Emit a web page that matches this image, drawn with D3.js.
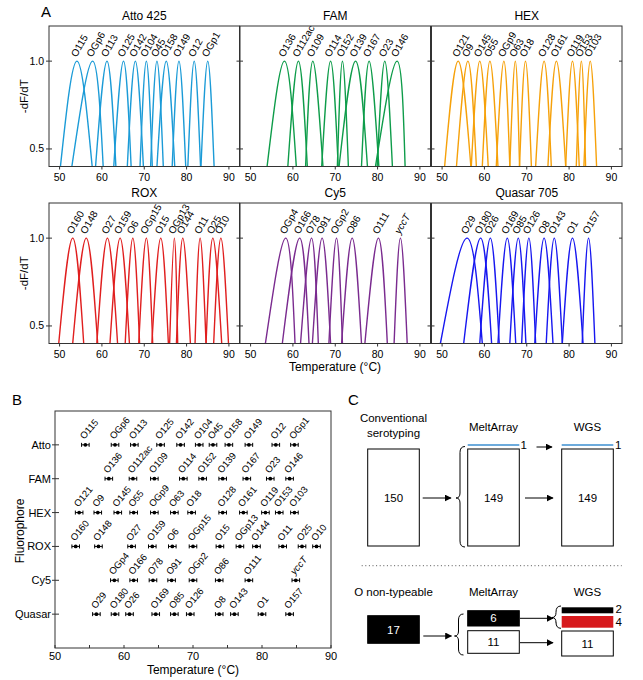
<!DOCTYPE html>
<html>
<head>
<meta charset="utf-8">
<script src="https://cdn.jsdelivr.net/npm/d3@7"></script>
<style>
  body { margin: 0; background: #fff; }
  svg { font-family: "Liberation Sans", Arial, sans-serif; }
</style>
</head>
<body>
<div id="chart"></div>
<script>
// ---- data: melt peaks, [name, Tm, left foot, right foot] (°C)
const attoPeaks = [["O115",54.1,50.2,57.7],["OGp6",57.8,52.9,60.3],["O113",61.2,58.5,63.3],["O125",65.1,62.8,66.9],
  ["O142",67.9,66.0,69.8],["O104",70.5,69.0,71.9],["O45",73.0,71.5,74.5],["O158",75.2,73.0,77.2],
  ["O149",78.2,76.6,79.8],["O12",81.8,80.3,83.3],["OGp1",85.0,83.4,86.5]];
const famPeaks = [["O136",58.0,53.9,60.8],["O112ac",61.3,58.8,63.4],["O109",64.7,63.0,67.1],["O114",68.9,66.8,70.7],
  ["O152",71.7,70.5,73.1],["O139",74.8,70.9,77.6],["O167",78.0,76.2,80.3],["O23",81.7,79.9,83.5],["O146",84.6,79.5,86.5]];
const hexPeaks = [["O121",53.8,50.6,56.8],["O9",56.1,53.4,58.1],["O145",58.9,56.9,60.9],["O55",61.3,59.5,63.2],
  ["OGp9",64.6,62.8,66.0],["O63",67.3,66.0,68.3],["O18",69.7,68.3,71.1],["O128",74.1,72.1,75.8],
  ["O161",77.0,75.0,79.2],["O119",80.8,79.2,82.4],["O153",82.9,81.7,83.9],["O103",85.0,83.5,86.5]];
const roxPeaks = [["O160",53.1,49.8,55.7],["O148",56.3,53.1,59.0],["O27",61.3,58.8,63.7],["O159",64.3,61.9,66.5],
  ["O6",67.3,65.5,68.9],["OGp15",70.5,68.7,72.0],["O15",73.9,71.8,75.7],["OGp13",77.1,76.0,77.9],
  ["O144",79.1,77.6,80.9],["O11",83.2,82.0,84.6],["O25",86.2,84.6,88.3],["O10",88.1,86.4,89.9]];
const cy5Peaks = [["OGp4",58.3,53.5,60.5],["O166",61.6,57.5,63.8],["O78",64.4,61.8,66.0],["O91",66.9,64.6,68.9],
  ["OGp2",70.3,68.5,71.7],["O86",74.0,71.5,76.2],["O111",80.2,77.0,82.3],["yccT",85.4,83.9,87.0]];
const quasarPeaks = [["O29",55.9,49.6,59.5],["O180",59.1,55.1,61.7],["O26",61.4,58.9,63.5],["O169",65.4,63.2,67.4],
  ["O85",68.0,66.0,69.8],["O126",70.5,68.8,72.1],["O8",74.1,71.9,76.2],["O143",76.5,74.6,78.4],
  ["O1",80.8,78.4,83.3],["O157",84.6,83.1,86.1]];

const panelTitles = ["Atto 425","FAM","HEX","ROX","Cy5","Quasar 705"];
const panelColors = ["#1b9bd7","#0e9c4a","#f6a10a","#e01f1f","#7a2b8f","#1717f0"];
const allPeaks = [attoPeaks, famPeaks, hexPeaks, roxPeaks, cy5Peaks, quasarPeaks];
const tempTicks = [50,60,70,80,90];
const yTicksA = [0.5, 1.0];

// panel B: mean Tm per probe (same order as names above)
const fluorB = ["Atto","FAM","HEX","ROX","Cy5","Quasar"];
const attoTm = [54.4,58.7,61.5,65.3,68.2,70.9,72.9,75.2,78.1,82.0,84.7];
const famTm = [57.8,61.3,64.4,68.6,71.4,74.3,77.8,81.2,84.0];
const hexTm = [53.5,56.2,59.1,61.4,64.4,67.3,69.8,74.3,77.3,80.5,82.5,84.7];
const roxTm = [53.0,56.3,61.1,64.1,67.0,70.0,73.9,76.8,79.2,83.0,85.8,87.9];
const cy5Tm = [58.6,61.4,64.2,66.9,70.0,73.8,78.1,84.9];
const quasarTm = [56.0,58.7,60.8,64.6,67.3,69.6,73.8,76.0,80.0,84.0];
const allTm = [attoTm, famTm, hexTm, roxTm, cy5Tm, quasarTm];
const tmError = 0.55;

// panel C counts
const conventionalCount = 150;
const meltTyped = [1, 149];
const wgsTyped = [1, 149];
const nonTypeable = 17;
const meltNonTypeable = [6, 11];
const wgsNonTypeable = [2, 4, 11];

const svg = d3.select("#chart").append("svg")
  .attr("width", 643).attr("height", 680);

svg.append("defs").append("marker")
  .attr("id", "arrow").attr("viewBox", "0 0 10 10")
  .attr("refX", 9).attr("refY", 5)
  .attr("markerWidth", 7).attr("markerHeight", 7)
  .attr("markerUnits", "userSpaceOnUse")
  .attr("orient", "auto")
  .append("path").attr("d", "M0,0 L10,5 L0,10 Z").attr("fill", "#000");

// ================= Panel A =================
svg.append("text").attr("x", 41).attr("y", 17).attr("font-size", 15).text("A");

const colLeft = [49, 240, 431.5];
const rowTop = [26, 203];
const pw = 190.5, ph = 140.5;

allPeaks.forEach((peaks, i) => {
  const col = i % 3, row = Math.floor(i / 3);
  const x0 = colLeft[col], y0 = rowTop[row];
  const x = d3.scaleLinear().domain([47.5, 92.5]).range([x0, x0 + pw]);
  const y = d3.scaleLinear().domain([0.4, 1.2]).range([y0 + ph, y0]);
  const g = svg.append("g");

  g.append("clipPath").attr("id", "clip" + i)
    .append("rect").attr("x", x0).attr("y", y0).attr("width", pw).attr("height", ph);

  const line = d3.line().x(d => x(d[0])).y(d => y(d[1])).curve(d3.curveNatural);

  g.append("g").attr("clip-path", `url(#clip${i})`)
    .selectAll("path").data(peaks).join("path")
    .attr("d", d => line([[d[2], 0.4], [d[1], 1.0], [d[3], 0.4]]))
    .attr("fill", "none")
    .attr("stroke", panelColors[i])
    .attr("stroke-width", 1.4);

  g.selectAll("text.pk").data(peaks).join("text")
    .attr("class", "pk")
    .attr("font-size", 10)
    .attr("transform", d => `translate(${x(d[1]) - 0.5},${y(1.0) - 3.5}) rotate(-60)`)
    .attr("font-style", d => d[0] === "yccT" ? "italic" : null)
    .text(d => d[0]);

  g.append("rect").attr("x", x0).attr("y", y0).attr("width", pw).attr("height", ph)
    .attr("fill", "none").attr("stroke", "#333").attr("stroke-width", 1);

  // x ticks
  g.selectAll("line.xt").data(tempTicks).join("line")
    .attr("x1", d => x(d)).attr("x2", d => x(d))
    .attr("y1", y0 + ph).attr("y2", y0 + ph + 3)
    .attr("stroke", "#333");
  g.selectAll("text.xl").data(tempTicks).join("text")
    .attr("x", d => x(d)).attr("y", y0 + ph + 14)
    .attr("text-anchor", "middle").attr("font-size", 10.5)
    .text(d => d);

  // y ticks on both edges
  g.selectAll("line.yl").data(yTicksA).join("line")
    .attr("x1", x0 - (col === 0 ? 3 : 0)).attr("x2", x0 + 3)
    .attr("y1", d => y(d)).attr("y2", d => y(d)).attr("stroke", "#333");
  g.selectAll("line.yr").data(yTicksA).join("line")
    .attr("x1", x0 + pw - 3).attr("x2", x0 + pw)
    .attr("y1", d => y(d)).attr("y2", d => y(d)).attr("stroke", "#333");
  if (col === 0) {
    g.selectAll("text.yt").data(yTicksA).join("text")
      .attr("x", x0 - 5).attr("y", d => y(d) + 3.5)
      .attr("text-anchor", "end").attr("font-size", 10.5)
      .text(d => d.toFixed(1));
    g.append("text")
      .attr("transform", `translate(${x0 - 21},${y0 + ph / 2}) rotate(-90)`)
      .attr("text-anchor", "middle").attr("font-size", 11.5)
      .text("-dF/dT");
  }

  g.append("text").attr("x", x0 + pw / 2).attr("y", y0 - 6)
    .attr("text-anchor", "middle").attr("font-size", 12)
    .text(panelTitles[i]);
});

svg.append("text").attr("x", 335).attr("y", 371)
  .attr("text-anchor", "middle").attr("font-size", 12)
  .text("Temperature (°C)");

// ================= Panel B =================
svg.append("text").attr("x", 12).attr("y", 405).attr("font-size", 15).text("B");

const bx = d3.scaleLinear().domain([50, 90]).range([55, 331]);
const by = d3.scalePoint().domain(["", ...fluorB, " "]).range([411, 648]);
const gB = svg.append("g");

gB.append("rect").attr("x", 55).attr("y", 411).attr("width", 276).attr("height", 237)
  .attr("fill", "none").attr("stroke", "#333");

gB.selectAll("line.xt").data(d3.range(50, 91, 5)).join("line")
  .attr("x1", d => bx(d)).attr("x2", d => bx(d))
  .attr("y1", 648).attr("y2", 645).attr("stroke", "#333");
gB.selectAll("text.xl").data(tempTicks).join("text")
  .attr("x", d => bx(d)).attr("y", 660)
  .attr("text-anchor", "middle").attr("font-size", 11)
  .text(d => d);
gB.selectAll("line.yt").data(fluorB).join("line")
  .attr("x1", 52).attr("x2", 59)
  .attr("y1", d => by(d)).attr("y2", d => by(d)).attr("stroke", "#333");
gB.selectAll("text.yl").data(fluorB).join("text")
  .attr("x", 51).attr("y", d => by(d) + 4)
  .attr("text-anchor", "end").attr("font-size", 11)
  .text(d => d);

svg.append("text").attr("x", 193).attr("y", 674)
  .attr("text-anchor", "middle").attr("font-size", 12)
  .text("Temperature (°C)");
svg.append("text").attr("transform", "translate(24,531) rotate(-90)")
  .attr("text-anchor", "middle").attr("font-size", 12)
  .text("Fluorophore");

allTm.forEach((tms, i) => {
  const yy = by(fluorB[i]);
  const pts = tms.map((t, j) => ({ t, name: allPeaks[i][j][0] }));
  const gp = gB.append("g");
  gp.selectAll("line.eb").data(pts).join("line")
    .attr("x1", d => bx(d.t - tmError)).attr("x2", d => bx(d.t + tmError))
    .attr("y1", yy).attr("y2", yy).attr("stroke", "#000").attr("stroke-width", 1);
  gp.selectAll("line.cl").data(pts).join("line")
    .attr("x1", d => bx(d.t - tmError)).attr("x2", d => bx(d.t - tmError))
    .attr("y1", yy - 2).attr("y2", yy + 2).attr("stroke", "#000");
  gp.selectAll("line.cr").data(pts).join("line")
    .attr("x1", d => bx(d.t + tmError)).attr("x2", d => bx(d.t + tmError))
    .attr("y1", yy - 2).attr("y2", yy + 2).attr("stroke", "#000");
  gp.selectAll("circle").data(pts).join("circle")
    .attr("cx", d => bx(d.t)).attr("cy", yy).attr("r", 1.9).attr("fill", "#000");
  gp.selectAll("text").data(pts).join("text")
    .attr("font-size", 9.5)
    .attr("font-style", d => d.name === "yccT" ? "italic" : null)
    .attr("transform", d => `translate(${bx(d.t) - 1},${yy - 5}) rotate(-50)`)
    .text(d => d.name);
});

// ================= Panel C =================
const gC = svg.append("g").attr("font-size", 11.5);
gC.append("text").attr("x", 348).attr("y", 405).attr("font-size", 15).text("C");

const boxW = 51.6;
const cx = [367.7, 467.7, 561.7];
const cMid = cx.map(v => v + boxW / 2);

function box(x, y, w, h, fill) {
  gC.append("rect").attr("x", x).attr("y", y).attr("width", w).attr("height", h)
    .attr("fill", fill).attr("stroke", "#000").attr("stroke-width", 1);
}
function label(x, y, t, color) {
  gC.append("text").attr("x", x).attr("y", y).attr("text-anchor", "middle")
    .attr("fill", color || "#000").text(t);
}
function arrow(x1, y1, x2) {
  gC.append("line").attr("x1", x1).attr("y1", y1).attr("x2", x2).attr("y2", y1)
    .attr("stroke", "#000").attr("stroke-width", 1).attr("marker-end", "url(#arrow)");
}
function brace(xEnd, top, bot, tip) {
  const xv = xEnd - 5, xt = xEnd - 9;
  const mid = tip;
  gC.append("path")
    .attr("d", `M${xEnd},${top} Q${xv},${top} ${xv},${top + 6} L${xv},${mid - 5}
      Q${xv},${mid} ${xt},${mid} Q${xv},${mid} ${xv},${mid + 5} L${xv},${bot - 6}
      Q${xv},${bot} ${xEnd},${bot}`)
    .attr("fill", "none").attr("stroke", "#000").attr("stroke-width", 1);
}

label(cMid[0], 422, "Conventional");
label(cMid[0], 437, "serotyping");
label(cMid[1], 431, "MeltArray");
label(cMid[2], 431, "WGS");

box(cx[0], 449, boxW, 97, "#fff");
label(cMid[0], 502, conventionalCount);
arrow(422.7, 498, 451);
brace(465, 446.5, 547, 498);

gC.append("line").attr("x1", cx[1]).attr("x2", cx[1] + boxW).attr("y1", 445).attr("y2", 445)
  .attr("stroke", "#3d8fd1").attr("stroke-width", 1.3);
gC.append("text").attr("x", 520.5).attr("y", 449).text(meltTyped[0]);
box(cx[1], 449, boxW, 97, "#fff");
label(cMid[1], 502, meltTyped[1]);
arrow(536.5, 447, 552);
arrow(525, 498, 553);

gC.append("line").attr("x1", cx[2]).attr("x2", cx[2] + boxW).attr("y1", 445).attr("y2", 445)
  .attr("stroke", "#3d8fd1").attr("stroke-width", 1.3);
gC.append("text").attr("x", 615).attr("y", 449).text(wgsTyped[0]);
box(cx[2], 449, boxW, 97, "#fff");
label(cMid[2], 502, wgsTyped[1]);

gC.append("line").attr("x1", 361.7).attr("x2", 621.7).attr("y1", 565.7).attr("y2", 565.7)
  .attr("stroke", "#555").attr("stroke-width", 1).attr("stroke-dasharray", "1,2.6");

label(cMid[0], 595.5, "O non-typeable");
label(cMid[1], 595.5, "MeltArray");
label(cMid[2], 595.5, "WGS");

box(cx[0], 615.7, boxW, 27.6, "#000");
label(cMid[0], 633.8, nonTypeable, "#fff");
arrow(423.3, 636, 451.5);
brace(463.5, 614, 655, 636);

box(cx[1], 610.7, boxW, 15.3, "#000");
label(cMid[1], 622.3, meltNonTypeable[0], "#fff");
box(cx[1], 630.7, boxW, 22.6, "#fff");
label(cMid[1], 646, meltNonTypeable[1]);
arrow(520, 618.3, 553);
arrow(520, 642.7, 553);
brace(561, 606, 628.3, 617.5);

gC.append("rect").attr("x", cx[2]).attr("y", 607.3).attr("width", boxW).attr("height", 6)
  .attr("fill", "#000");
gC.append("rect").attr("x", cx[2]).attr("y", 616).attr("width", boxW).attr("height", 11.7)
  .attr("fill", "#d7191c");
gC.append("text").attr("x", 615.5).attr("y", 613.3).text(wgsNonTypeable[0]);
gC.append("text").attr("x", 615.5).attr("y", 625.5).text(wgsNonTypeable[1]);
box(cx[2], 631, boxW, 25, "#fff");
label(cMid[2], 647.5, wgsNonTypeable[2]);
</script>
</body>
</html>
